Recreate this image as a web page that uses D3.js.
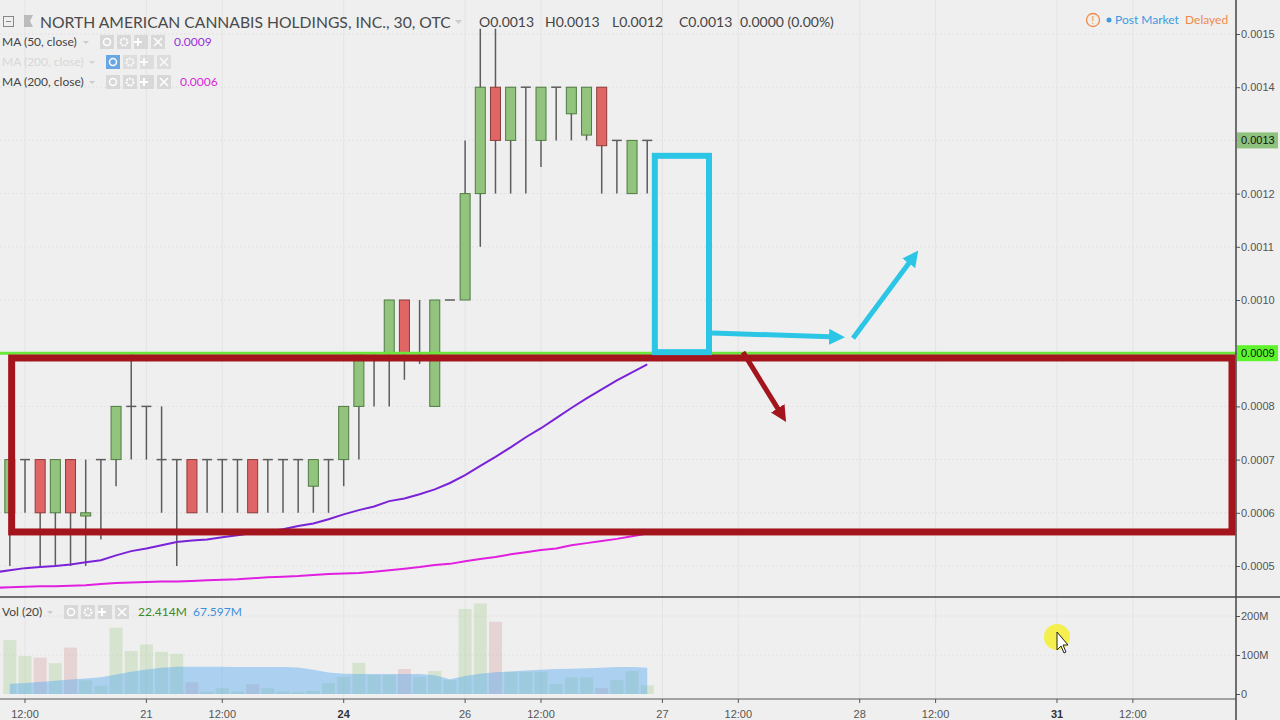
<!DOCTYPE html>
<html>
<head>
<meta charset="utf-8">
<script src="https://cdn.jsdelivr.net/npm/d3@7"></script>
<style>
  body { margin: 0; background: #efefef; }
  svg { display: block; }
  text { font-family: 'Liberation Sans', Arial, sans-serif; }
</style>
</head>
<body>
<div id="container1"></div>
<script>
// 30 min bars, index 0 = the 12:00 bar of day 20
const barIndex = d3.range(-1, 42);
const opens  = [0.0006, 0.0007, 0.0007, 0.0006, 0.0007, 0.000594, 0.0007, 0.0007, 0.0008, 0.0008, 0.0007, 0.0007, 0.0007,
                0.0007, 0.0007, 0.0007, 0.0007, 0.0007, 0.0007, 0.0007, 0.00065, 0.0007, 0.0007, 0.0008, 0.0009, 0.0009,
                0.0010, 0.0009, 0.0008, 0.0010, 0.0010, 0.0012, 0.0014, 0.0013, 0.0014, 0.0013, 0.0014, 0.00135, 0.00131,
                0.0014, 0.0013, 0.0012, 0.0013];
const highs  = [0.0007, 0.0007, 0.0007, 0.0007, 0.0007, 0.0007, 0.0007, 0.0008, 0.0009, 0.0008, 0.0008, 0.0007, 0.0007,
                0.0007, 0.0007, 0.0007, 0.0007, 0.0007, 0.0007, 0.0007, 0.0007, 0.0007, 0.0008, 0.0009, 0.0009, 0.0010,
                0.0010, 0.0010, 0.0010, 0.0010, 0.0013, 0.00151, 0.00151, 0.0014, 0.0014, 0.0014, 0.0014, 0.0014, 0.0014,
                0.0014, 0.0013, 0.0013, 0.0013];
const lows   = [0.0005, 0.0006, 0.0005, 0.0005, 0.0005, 0.0005, 0.00055, 0.00065, 0.0007, 0.0007, 0.0006, 0.0005, 0.0006,
                0.0006, 0.0006, 0.0006, 0.0006, 0.0006, 0.0006, 0.0006, 0.0006, 0.0006, 0.00065, 0.0007, 0.0008, 0.0008,
                0.00085, 0.00088, 0.0008, 0.0010, 0.0010, 0.0011, 0.0012, 0.0012, 0.0012, 0.00125, 0.0013, 0.0013, 0.0013,
                0.0012, 0.0012, 0.0012, 0.0012];
const closes = [0.0007, 0.0007, 0.0006, 0.0007, 0.0006, 0.0006, 0.0007, 0.0008, 0.0008, 0.0008, 0.0007, 0.0007, 0.0006,
                0.0007, 0.0007, 0.0007, 0.0006, 0.0007, 0.0007, 0.0007, 0.0007, 0.0007, 0.0008, 0.0009, 0.0009, 0.0010,
                0.0009, 0.0009, 0.0010, 0.0010, 0.0012, 0.0014, 0.0013, 0.0014, 0.0014, 0.0014, 0.0014, 0.0014, 0.0014,
                0.00129, 0.0013, 0.0013, 0.0013];
// volume in millions
const volumes = [138, 97, 93, 79, 119, 35, 21, 170, 110, 127, 108, 103, 30, 6, 15, 6, 25, 15, 6, 5, 8, 28, 44, 80, 49, 49,
                 64, 44, 59, 36, 218, 232, 185, 57, 57, 57, 25, 42, 42, 15, 36, 59, 22.414];
const volumeMA = [26, 28, 31, 34, 37, 40, 43, 50, 57, 63, 67, 70, 70, 70, 70, 69, 69, 69, 69, 68, 62, 55, 52, 51, 51, 51,
                  51, 51, 48, 38, 46, 52, 56, 58, 60, 62, 64, 65, 66, 67, 69, 69, 67.597];

// moving averages start one bar further left
const maIndex = d3.range(-2, 42);
const ma50 = [0.000488, 0.000492, 0.000496, 0.000498, 0.000500, 0.000503, 0.000507, 0.000511, 0.000520, 0.000528, 0.000533,
              0.000539, 0.000545, 0.000548, 0.000550, 0.000554, 0.000558, 0.000562, 0.000565, 0.000569, 0.000575, 0.000580,
              0.000588, 0.000597, 0.000605, 0.000612, 0.000622, 0.000627, 0.000635, 0.000644, 0.000656, 0.000671, 0.000688,
              0.000705, 0.000723, 0.000742, 0.000759, 0.000778, 0.000797, 0.000815, 0.000832, 0.000849, 0.000864, 0.000879];
const ma200 = [0.000459, 0.000460, 0.000461, 0.000462, 0.000462, 0.000463, 0.000464, 0.000466, 0.000468, 0.000469, 0.000470,
               0.000471, 0.000471, 0.000472, 0.000473, 0.000474, 0.000475, 0.000477, 0.000479, 0.000480, 0.000481, 0.000483,
               0.000485, 0.000486, 0.000487, 0.000489, 0.000492, 0.000495, 0.000498, 0.000502, 0.000504, 0.000509, 0.000513,
               0.000517, 0.000522, 0.000526, 0.000530, 0.000533, 0.000539, 0.000543, 0.000547, 0.000551, 0.000556, 0.000561];

const priceTicks = [0.0005, 0.0006, 0.0007, 0.0008, 0.0009, 0.0010, 0.0011, 0.0012, 0.0013, 0.0014, 0.0015];
const volumeTicks = [0, 100, 200];
const timeTicks = [
    {bar: 0, label: '12:00'}, {bar: 8, label: '21'}, {bar: 13, label: '12:00'}, {bar: 21, label: '24', bold: true},
    {bar: 29, label: '26'}, {bar: 34, label: '12:00'}, {bar: 42, label: '27'}, {bar: 47, label: '12:00'},
    {bar: 55, label: '28'}, {bar: 60, label: '12:00'}, {bar: 68, label: '31', bold: true}, {bar: 73, label: '12:00'}
];

// hand drawn annotations, in bar / price units
const supportLevel = 0.0009;
const redBox = {b0: -0.88, b1: 79.53, p0: 0.000891, p1: 0.000564};
const cyanBox = {b0: 41.5, b1: 45.07, p0: 0.001271, p1: 0.000902};
const cyanArrows = [
    {b0: 45.27, p0: 0.000938, b1: 53.9, p1: 0.000930},
    {b0: 54.56, p0: 0.000928, b1: 58.78, p1: 0.00109}
];
const redArrows = [{b0: 47.31, p0: 0.000902, b1: 50.08, p1: 0.000774}];

const maxWidth = 1280;
const maxHeight = 720;
const plotRight = 1236;
const paneSplit = 597;
const axisBottom = 699;

const candleData = barIndex.map((b, k) => ({b: b, o: opens[k], h: highs[k], l: lows[k], c: closes[k], v: volumes[k], vma: volumeMA[k]}));

let x = d3.scaleLinear().domain([0, 68]).range([25, 1057]);
let y = d3.scaleLinear().domain([0.0005, 0.0015]).range([566, 34]);
let yVol = d3.scaleLinear().domain([0, 200]).range([694, 616]);

let svg = d3.select('div#container1')
    .append('svg')
    .attr('width', maxWidth)
    .attr('height', maxHeight)
    .style('background-color', '#efefef');

let defs = svg.append('defs');
defs.append('clipPath').attr('id', 'priceClip')
    .append('rect').attr('x', 0).attr('y', 0).attr('width', plotRight).attr('height', paneSplit);
defs.append('clipPath').attr('id', 'volClip')
    .append('rect').attr('x', 0).attr('y', paneSplit).attr('width', plotRight).attr('height', axisBottom - paneSplit);
[['cyanHead', '#2bc6e6'], ['redHead', '#a3141c']].forEach(function (m) {
    defs.append('marker')
        .attr('id', m[0])
        .attr('viewBox', '0 0 10 10')
        .attr('refX', 5).attr('refY', 5)
        .attr('markerWidth', 16).attr('markerHeight', 16)
        .attr('markerUnits', 'userSpaceOnUse')
        .attr('orient', 'auto')
        .append('path')
        .attr('d', 'M0,0 L10,5 L0,10 Z')
        .style('fill', m[1]);
});

/// GRID ///
let grid = svg.append('g');
grid.selectAll('line.hgrid')
    .data(priceTicks)
    .enter()
    .append('line')
    .attr('x1', 0).attr('x2', plotRight)
    .attr('y1', d => y(d)).attr('y2', d => y(d))
    .style('stroke', '#e2e2e2')
    .style('stroke-dasharray', '2,2');
grid.selectAll('line.vgrid')
    .data(timeTicks)
    .enter()
    .append('line')
    .attr('x1', d => x(d.bar)).attr('x2', d => x(d.bar))
    .attr('y1', 0).attr('y2', axisBottom)
    .style('stroke', '#e4e4e4');
grid.selectAll('line.volgrid')
    .data([100, 200])
    .enter()
    .append('line')
    .attr('x1', 0).attr('x2', plotRight)
    .attr('y1', d => yVol(d)).attr('y2', d => yVol(d))
    .style('stroke', '#e2e2e2')
    .style('stroke-dasharray', '2,2');

/// CANDLES ///
let candles = svg.append('g').attr('clip-path', 'url(#priceClip)');
candles.selectAll('line.wick')
    .data(candleData)
    .enter()
    .append('line')
    .attr('x1', d => x(d.b)).attr('x2', d => x(d.b))
    .attr('y1', d => y(d.h)).attr('y2', d => y(d.l))
    .style('stroke', '#5d5d5d')
    .style('stroke-width', 1.5);
candles.selectAll('rect.body')
    .data(candleData.filter(d => d.o != d.c))
    .enter()
    .append('rect')
    .attr('x', d => x(d.b) - 5)
    .attr('width', 10)
    .attr('y', d => y(Math.max(d.o, d.c)))
    .attr('height', d => Math.max(1, Math.abs(y(d.o) - y(d.c))))
    .style('fill', d => d.c > d.o ? '#93c47d' : '#e06666')
    .style('stroke', d => d.c > d.o ? '#4f7a42' : '#8c3b3b')
    .style('stroke-width', 1);
candles.selectAll('line.doji')
    .data(candleData.filter(d => d.o == d.c))
    .enter()
    .append('line')
    .attr('x1', d => x(d.b) - 5).attr('x2', d => x(d.b) + 5)
    .attr('y1', d => y(d.c)).attr('y2', d => y(d.c))
    .style('stroke', '#5d5d5d')
    .style('stroke-width', 1.5);

/// MOVING AVERAGES ///
let maLine = d3.line()
    .x((d, k) => x(maIndex[k]))
    .y(d => y(d));
let maLayer = svg.append('g').attr('clip-path', 'url(#priceClip)');
maLayer.append('path')
    .attr('d', maLine(ma200))
    .style('fill', 'none')
    .style('stroke', '#e01fe0')
    .style('stroke-width', 2);
maLayer.append('path')
    .attr('d', maLine(ma50))
    .style('fill', 'none')
    .style('stroke', '#7a22d8')
    .style('stroke-width', 2);

/// VOLUME ///
let vol = svg.append('g').attr('clip-path', 'url(#volClip)');
vol.selectAll('rect.vbar')
    .data(candleData)
    .enter()
    .append('rect')
    .attr('x', d => x(d.b) - 6.5)
    .attr('width', 13)
    .attr('y', d => yVol(d.v))
    .attr('height', d => yVol(0) - yVol(d.v))
    .style('fill', d => d.c < d.o ? '#d28c8c' : '#93c47d')
    .style('opacity', 0.28);
let volArea = d3.area()
    .x(d => x(d.b))
    .y0(yVol(0))
    .y1(d => yVol(d.vma));
vol.append('path')
    .attr('d', volArea(candleData))
    .style('fill', '#5aaaf0')
    .style('opacity', 0.45);

/// ANNOTATIONS ///
let notes = svg.append('g').attr('clip-path', 'url(#priceClip)');
notes.append('line')
    .attr('x1', 0).attr('x2', plotRight)
    .attr('y1', y(supportLevel)).attr('y2', y(supportLevel))
    .style('stroke', '#6be63a')
    .style('stroke-width', 3);
notes.append('rect')
    .attr('x', x(redBox.b0)).attr('y', y(redBox.p0))
    .attr('width', x(redBox.b1) - x(redBox.b0))
    .attr('height', y(redBox.p1) - y(redBox.p0))
    .style('fill', 'none')
    .style('stroke', '#a3141c')
    .style('stroke-width', 7);
notes.append('rect')
    .attr('x', x(cyanBox.b0)).attr('y', y(cyanBox.p0))
    .attr('width', x(cyanBox.b1) - x(cyanBox.b0))
    .attr('height', y(cyanBox.p1) - y(cyanBox.p0))
    .style('fill', 'none')
    .style('stroke', '#2bc6e6')
    .style('stroke-width', 6);

function arrowEnd(d, axis) {
    let ang = Math.atan2(y(d.p1) - y(d.p0), x(d.b1) - x(d.b0));
    return axis == 'x' ? x(d.b1) - 6 * Math.cos(ang) : y(d.p1) - 6 * Math.sin(ang);
}
notes.selectAll('line.cyanArrow')
    .data(cyanArrows)
    .enter()
    .append('line')
    .attr('x1', d => x(d.b0)).attr('y1', d => y(d.p0))
    .attr('x2', d => arrowEnd(d, 'x'))
    .attr('y2', d => arrowEnd(d, 'y'))
    .attr('marker-end', 'url(#cyanHead)')
    .style('stroke', '#2bc6e6')
    .style('stroke-width', 5);
notes.selectAll('line.redArrow')
    .data(redArrows)
    .enter()
    .append('line')
    .attr('x1', d => x(d.b0)).attr('y1', d => y(d.p0))
    .attr('x2', d => arrowEnd(d, 'x'))
    .attr('y2', d => arrowEnd(d, 'y'))
    .attr('marker-end', 'url(#redHead)')
    .style('stroke', '#a3141c')
    .style('stroke-width', 5);

/// AXES ///
svg.append('line')
    .attr('x1', 0).attr('x2', maxWidth)
    .attr('y1', paneSplit).attr('y2', paneSplit)
    .style('stroke', '#444').style('stroke-width', 1.5);
svg.append('line')
    .attr('x1', 0).attr('x2', plotRight)
    .attr('y1', axisBottom).attr('y2', axisBottom)
    .style('stroke', '#555').style('stroke-width', 1);

let priceAxis = svg.append('g')
    .attr('transform', 'translate(' + plotRight + ',0)')
    .call(d3.axisRight(y).tickValues(priceTicks).tickFormat(d3.format('.4f')).tickSize(4).tickSizeOuter(0));
priceAxis.select('.domain').remove();
priceAxis.selectAll('line').style('stroke', '#555');
priceAxis.selectAll('text').style('font-size', '11px').style('fill', '#555').attr('x', 5);

let volAxis = svg.append('g')
    .attr('transform', 'translate(' + plotRight + ',0)')
    .call(d3.axisRight(yVol).tickValues(volumeTicks).tickFormat(d => d == 0 ? '0' : d + 'M').tickSize(4));
volAxis.select('.domain').remove();
volAxis.selectAll('line').style('stroke', '#555');
volAxis.selectAll('text').style('font-size', '11px').style('fill', '#555').attr('x', 5);

svg.append('line')
    .attr('x1', plotRight).attr('x2', plotRight)
    .attr('y1', 0).attr('y2', maxHeight)
    .style('stroke', '#444').style('stroke-width', 1.5);

let timeAxis = svg.append('g');
timeAxis.selectAll('line')
    .data(timeTicks)
    .enter()
    .append('line')
    .attr('x1', d => x(d.bar)).attr('x2', d => x(d.bar))
    .attr('y1', axisBottom).attr('y2', axisBottom + 4)
    .style('stroke', '#555');
timeAxis.selectAll('text')
    .data(timeTicks)
    .enter()
    .append('text')
    .attr('x', d => x(d.bar))
    .attr('y', 718)
    .attr('text-anchor', 'middle')
    .style('font-size', '11px')
    .style('font-weight', d => d.bold ? 'bold' : 'normal')
    .style('fill', d => d.bold ? '#333' : '#555')
    .text(d => d.label);

/// PRICE LABELS ON THE AXIS ///
let lastClose = closes[closes.length - 1];
[[lastClose, '#8fc27c'], [supportLevel, '#5cf52c']].forEach(function (p) {
    svg.append('rect')
        .attr('x', plotRight + 1).attr('y', y(p[0]) - 8)
        .attr('width', 41).attr('height', 16)
        .style('fill', p[1]);
    svg.append('text')
        .attr('x', plotRight + 5).attr('y', y(p[0]) + 4)
        .style('font-size', '11px').style('fill', '#111')
        .text(d3.format('.4f')(p[0]));
});

/// HEADER ///
let header = svg.append('g');
header.append('rect').attr('x', 3.5).attr('y', 16.5).attr('width', 10).attr('height', 10)
    .style('fill', 'none').style('stroke', '#888');
header.append('line').attr('x1', 6).attr('x2', 11).attr('y1', 21.5).attr('y2', 21.5).style('stroke', '#888');
header.append('path').attr('d', 'M24,15 L33,15 L30,21 L33,27 L24,27 Z').style('fill', '#bbb');
header.append('text')
    .attr('x', 40).attr('y', 28)
    .style('font-family', 'Lato, sans-serif')
    .style('font-size', '15.7px')
    .style('fill', '#4a4a4a')
    .text('NORTH AMERICAN CANNABIS HOLDINGS, INC., 30, OTC');
header.append('path').attr('d', 'M455,20 L462,20 L458.5,24 Z').style('fill', '#ccc');

let ohlcParts = [
    'O' + d3.format('.4f')(opens[opens.length - 1]),
    'H' + d3.format('.4f')(highs[highs.length - 1]),
    'L' + d3.format('.4f')(lows[lows.length - 1]),
    'C' + d3.format('.4f')(lastClose),
    '0.0000 (0.00%)'
];
header.selectAll('text.ohlc')
    .data(ohlcParts)
    .enter()
    .append('text')
    .attr('x', (d, k) => [479, 545, 612, 679, 740][k])
    .attr('y', 27)
    .style('font-family', 'Lato, sans-serif')
    .style('font-size', '14px')
    .style('fill', '#444')
    .text(d => d);

// indicator legends
function legendIcons(g, x0, yc, eyeOn) {
    for (let k = 0; k < 4; k++) {
        g.append('rect')
            .attr('x', x0 + k * 17).attr('y', yc - 7)
            .attr('width', 14).attr('height', 14)
            .style('fill', (k == 0 && eyeOn) ? '#3d8fe0' : '#d8d8d8');
    }
    g.append('circle').attr('cx', x0 + 7).attr('cy', yc).attr('r', 3.5)
        .style('fill', 'none').style('stroke', '#fff').style('stroke-width', 1.5);
    g.append('circle').attr('cx', x0 + 24).attr('cy', yc).attr('r', 3.5)
        .style('fill', 'none').style('stroke', '#fff').style('stroke-width', 2).style('stroke-dasharray', '2,1');
    g.append('path').attr('d', 'M' + (x0 + 38) + ',' + (yc - 4) + 'v8M' + (x0 + 34) + ',' + yc + 'h8')
        .style('stroke', '#fff').style('stroke-width', 2);
    g.append('path').attr('d', 'M' + (x0 + 54) + ',' + (yc - 4) + 'l8,8M' + (x0 + 62) + ',' + (yc - 4) + 'l-8,8')
        .style('stroke', '#fff').style('stroke-width', 1.5);
}
let legends = [
    {label: 'MA (50, close)', y: 42, iconX: 100, value: d3.format('.4f')(ma50[ma50.length - 1]), color: '#9a2fd8', valueX: 174, faded: false},
    {label: 'MA (200, close)', y: 62, iconX: 106, value: '', color: '#c0c0c0', valueX: 180, faded: true},
    {label: 'MA (200, close)', y: 82, iconX: 106, value: d3.format('.4f')(ma200[ma200.length - 1]), color: '#d81fd8', valueX: 180, faded: false},
    {label: 'Vol (20)', y: 612, iconX: 64, value: '', color: '', valueX: 0, faded: false}
];
legends.forEach(function (lg) {
    let g = svg.append('g').style('opacity', lg.faded ? 0.75 : 1);
    g.append('text')
        .attr('x', 2).attr('y', lg.y + 4)
        .style('font-family', 'Lato, sans-serif')
        .style('font-size', '12px')
        .style('fill', lg.faded ? '#cfcfcf' : '#444')
        .text(lg.label);
    g.append('path')
        .attr('d', 'M' + (lg.iconX - 17) + ',' + (lg.y - 1) + 'l6,0l-3,3z')
        .style('fill', '#ccc');
    legendIcons(g, lg.iconX, lg.y, lg.faded);
    if (lg.value) {
        g.append('text')
            .attr('x', lg.valueX).attr('y', lg.y + 4)
            .style('font-family', 'Lato, sans-serif')
            .style('font-size', '12px')
            .style('fill', lg.color)
            .text(lg.value);
    }
});
svg.append('text')
    .attr('x', 138).attr('y', 616)
    .style('font-family', 'Lato, sans-serif').style('font-size', '12px')
    .style('fill', '#3a8a2a')
    .text(volumes[volumes.length - 1].toFixed(3) + 'M');
svg.append('text')
    .attr('x', 193).attr('y', 616)
    .style('font-family', 'Lato, sans-serif').style('font-size', '12px')
    .style('fill', '#3d8fe0')
    .text(volumeMA[volumeMA.length - 1].toFixed(3) + 'M');

/// MARKET STATUS ///
let status = svg.append('g');
status.append('circle').attr('cx', 1093).attr('cy', 20).attr('r', 6.5)
    .style('fill', 'none').style('stroke', '#f08a4b').style('stroke-width', 1.3);
status.append('text').attr('x', 1093).attr('y', 24).attr('text-anchor', 'middle')
    .style('font-size', '10px').style('fill', '#f08a4b').text('!');
status.append('circle').attr('cx', 1109).attr('cy', 20).attr('r', 2.5).style('fill', '#3d9be0');
status.append('text').attr('x', 1115).attr('y', 24)
    .style('font-family', 'Lato, sans-serif').style('font-size', '12px')
    .style('fill', '#3d9be0').text('Post Market');
status.append('text').attr('x', 1185).attr('y', 24)
    .style('font-family', 'Lato, sans-serif').style('font-size', '12px')
    .style('fill', '#f08a4b').text('Delayed');

/// MOUSE CURSOR ///
let cursor = svg.append('g');
cursor.append('circle').attr('cx', 1057).attr('cy', 637).attr('r', 13)
    .style('fill', '#f4ee30').style('opacity', 0.85);
cursor.append('path')
    .attr('d', 'M1057,632 L1057,650 L1061,646 L1064,653 L1066,652 L1063,645 L1068,645 Z')
    .style('fill', '#fff').style('stroke', '#222').style('stroke-width', 1);
</script>
</body>
</html>
